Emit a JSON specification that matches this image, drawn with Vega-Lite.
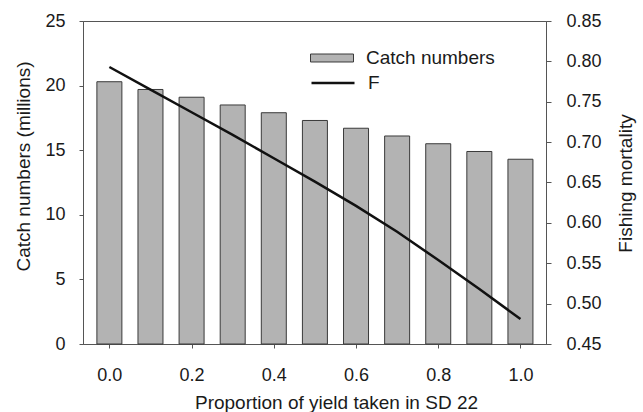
{
  "$schema": "https://vega.github.io/schema/vega-lite/v6.json",
  "width": 463,
  "height": 323,
  "autosize": {"type": "none"},
  "padding": {"left": 83, "top": 21, "right": 97, "bottom": 68},
  "background": "white",
  "config": {
    "font": "Liberation Sans",
    "view": {"stroke": "#555555", "strokeWidth": 1},
    "axis": {
      "grid": false,
      "domainColor": "#555555",
      "tickColor": "#555555",
      "tickSize": 5,
      "labelFont": "Liberation Sans",
      "titleFont": "Liberation Sans",
      "labelFontSize": 18,
      "titleFontSize": 19,
      "labelColor": "#1a1a1a",
      "titleColor": "#1a1a1a",
      "titleFontWeight": "normal"
    },
    "legend": {
      "labelFont": "Liberation Sans",
      "labelFontSize": 19,
      "labelColor": "#1a1a1a",
      "padding": 0
    }
  },
  "data": {
    "values": [
      {"p": 0.0, "catch": 20.3, "F": 0.793},
      {"p": 0.1, "catch": 19.7, "F": 0.765},
      {"p": 0.2, "catch": 19.1, "F": 0.737},
      {"p": 0.3, "catch": 18.5, "F": 0.709},
      {"p": 0.4, "catch": 17.9, "F": 0.680},
      {"p": 0.5, "catch": 17.3, "F": 0.651},
      {"p": 0.6, "catch": 16.7, "F": 0.621},
      {"p": 0.7, "catch": 16.1, "F": 0.589},
      {"p": 0.8, "catch": 15.5, "F": 0.554},
      {"p": 0.9, "catch": 14.9, "F": 0.518},
      {"p": 1.0, "catch": 14.3, "F": 0.481}
    ]
  },
  "encoding": {
    "x": {
      "field": "p",
      "type": "quantitative",
      "scale": {"domain": [-0.052, 1.05], "nice": false, "zero": false},
      "axis": {
        "values": [0, 0.2, 0.4, 0.6, 0.8, 1.0],
        "format": ".1f",
        "tickSize": 4,
        "labelBaseline": "alphabetic",
        "labelPadding": 32.5,
        "title": "Proportion of yield taken in SD 22",
        "titleX": 253,
        "titleY": 64,
        "titleBaseline": "alphabetic"
      }
    }
  },
  "layer": [
    {
      "mark": {"type": "bar", "size": 25, "stroke": "#3a3a3a", "strokeWidth": 1},
      "encoding": {
        "y": {
          "field": "catch",
          "type": "quantitative",
          "scale": {"domain": [0, 25], "nice": false},
          "axis": {
            "orient": "left",
            "values": [0, 5, 10, 15, 20, 25],
            "tickSize": 4,
            "labelPadding": 14,
            "title": "Catch numbers (millions)",
            "titleAngle": -90,
            "titleX": -60,
            "titleY": 145,
            "titleBaseline": "middle"
          }
        },
        "fill": {
          "datum": "Catch numbers",
          "type": "nominal",
          "scale": {"domain": ["Catch numbers"], "range": ["#b3b3b3"]},
          "legend": {
            "orient": "none",
            "legendX": 227,
            "legendY": 15,
            "title": null,
            "symbolType": "M-1,-0.186H1V0.186H-1Z",
            "symbolSize": 1849,
            "symbolStrokeColor": "#3a3a3a",
            "symbolStrokeWidth": 1,
            "labelOffset": 12
          }
        }
      }
    },
    {
      "mark": {"type": "line", "strokeWidth": 2.5},
      "encoding": {
        "y": {
          "field": "F",
          "type": "quantitative",
          "scale": {"domain": [0.45, 0.85], "nice": false, "zero": false},
          "axis": {
            "orient": "right",
            "values": [0.45, 0.5, 0.55, 0.6, 0.65, 0.7, 0.75, 0.8, 0.85],
            "format": ".2f",
            "tickSize": 5,
            "labelPadding": 15,
            "title": "Fishing mortality",
            "titleAngle": 270,
            "titleX": 79,
            "titleY": 162,
            "titleBaseline": "middle"
          }
        },
        "stroke": {
          "datum": "F",
          "type": "nominal",
          "scale": {"domain": ["F"], "range": ["#111111"]},
          "legend": {
            "orient": "none",
            "legendX": 227,
            "legendY": 39,
            "title": null,
            "symbolType": "stroke",
            "symbolSize": 1849,
            "symbolStrokeWidth": 2.5,
            "labelOffset": 12
          }
        }
      }
    }
  ],
  "resolve": {"scale": {"y": "independent", "fill": "independent", "stroke": "independent"}}
}
